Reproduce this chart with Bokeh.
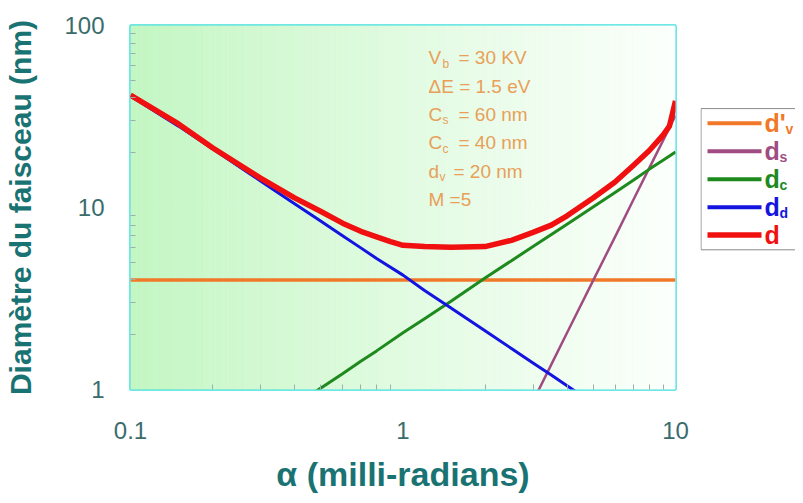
import numpy as np
from bokeh.plotting import figure
from bokeh.layouts import row
from bokeh.models import FixedTicker, CustomJSTickFormatter, Label, Range1d
from bokeh.core.properties import value
from bokeh.embed import file_html
from bokeh.resources import INLINE

# ---------------- data ----------------
alpha_tot = [0.1, 0.15, 0.2, 0.3, 0.4, 0.5, 0.6, 0.7, 0.8, 0.9, 1.0, 1.2, 1.5,
             2.0, 2.5, 3.0, 3.5, 4.0, 5.0, 6.0, 7.0, 8.0, 9.0, 9.5, 10.0]
d_tot = [41.5, 28.8, 21.3, 14.5, 11.3, 9.5, 8.2, 7.4, 6.9, 6.5, 6.2, 6.1, 6.05,
         6.1, 6.6, 7.3, 8.0, 9.0, 11.3, 13.8, 17.0, 20.5, 25.0, 28.0, 38.5]

alpha_dd = [0.1, 0.15, 0.2, 0.3, 0.4, 0.5, 0.6, 0.7, 0.8, 1.0, 1.2, 1.5, 2.0,
            2.5, 3.0, 3.5, 4.0, 4.5]
d_dd = [41.0, 28.0, 21.0, 14.0, 10.5, 8.4, 7.0, 6.0, 5.25, 4.25, 3.5, 2.8, 2.1,
        1.68, 1.4, 1.2, 1.05, 0.93]

alpha_dc = [0.45, 0.5, 0.6, 0.7, 0.8, 1.0, 1.2, 1.5, 2.0, 2.5, 3.0, 4.0, 5.0,
            6.0, 7.0, 8.0, 9.0, 10.0]
d_dc = [0.92, 1.02, 1.22, 1.43, 1.63, 2.05, 2.45, 3.05, 4.1, 5.1, 6.1, 8.1,
        10.1, 12.1, 14.1, 16.2, 18.2, 20.2]

alpha_ds = [3.0, 3.5, 4.0, 5.0, 6.0, 7.0, 8.0, 9.0, 10.0]
d_ds = [0.86, 1.37, 2.05, 4.0, 6.9, 11.0, 16.4, 23.3, 32.0]

alpha_dv = [0.1, 10.0]
d_dv = [4.0, 4.0]

x_ticks = [0.1, 1, 10]
x_tick_labels = ["0.1", "1", "10"]
y_ticks = [1, 10, 100]
y_tick_labels = ["1", "10", "100"]

param_lines = [("V", "b", "= 30 KV"), ("\u0394E = 1.5 eV", "", ""),
               ("C", "s", "= 60 nm"), ("C", "c", "= 40 nm"),
               ("d", "v", "= 20 nm"), ("M =5", "", "")]
legend_main = ["d'", "d", "d", "d", "d"]
legend_sub = ["v", "s", "c", "d", ""]

# ---------------- styles ----------------
C_ORANGE = "#F07828"
C_PURPLE = "#A04C82"
C_GREEN = "#1E8A1E"
C_BLUE = "#1414E0"
C_RED = "#F01010"
C_TEAL = "#1a7373"
C_TICK = "#3a6c6c"
C_PARAM = "#E8A058"
FONT = "Liberation Sans"

W_TOTAL, H = 795, 495
W_MAIN = 700
ML, MR, MT, MB = 130, 25, 25, 105
p = figure(width=W_MAIN, height=H, x_axis_type="log", y_axis_type="log",
           x_range=Range1d(0.1, 10), y_range=Range1d(1, 100),
           output_backend="svg", toolbar_location=None,
           min_border_left=ML, min_border_right=MR,
           min_border_top=MT, min_border_bottom=MB)
p.background_fill_color = "white"
p.border_fill_color = "white"
p.outline_line_color = "#40E0E0"
p.outline_line_width = 2.5

# background gradient (green -> white)
n = 90
edges = np.logspace(-1, 1, n + 1)
t = (np.arange(n) + 0.5) / n
left_rgb = np.array([194, 246, 194])
cols = []
for tt in t:
    c = left_rgb + (np.array([252, 255, 252]) - left_rgb) * (tt ** 0.9)
    cols.append("#%02x%02x%02x" % tuple(int(round(v)) for v in c))
p.quad(left=edges[:-1], right=edges[1:], bottom=1, top=100,
       fill_color=cols, line_color=cols, line_width=0.6)

# axes
x_minor = [d * k for d in (0.1, 1) for k in range(2, 10)]
y_minor = [d * k for d in (1, 10) for k in range(2, 10)]
p.xaxis.ticker = FixedTicker(ticks=x_ticks, minor_ticks=x_minor)
p.yaxis.ticker = FixedTicker(ticks=y_ticks, minor_ticks=y_minor)
fmt_code = """
const i = tv.findIndex(t => Math.abs(t - tick) < 1e-6 * Math.max(1, t));
return i >= 0 ? tl[i] : "";
"""
p.xaxis.formatter = CustomJSTickFormatter(args=dict(tv=x_ticks, tl=x_tick_labels), code=fmt_code)
p.yaxis.formatter = CustomJSTickFormatter(args=dict(tv=y_ticks, tl=y_tick_labels), code=fmt_code)

for ax in (p.xaxis[0], p.yaxis[0]):
    ax.axis_line_color = None
    ax.major_tick_line_color = None
    ax.minor_tick_line_color = "#9ab0b0"
    ax.minor_tick_line_width = 1
    ax.minor_tick_in = 5
    ax.minor_tick_out = 0
    ax.major_label_text_font = FONT
    ax.major_label_text_font_size = "24px"
    ax.major_label_text_color = C_TICK
    ax.axis_label_text_font = FONT
    ax.axis_label_text_font_style = "bold"
    ax.axis_label_text_color = C_TEAL

p.xaxis.axis_label = "\u03b1 (milli-radians)"
p.xaxis.axis_label_text_font_size = "34px"
p.xaxis.major_label_standoff = 26
p.xaxis.axis_label_standoff = 13
p.yaxis.axis_label = "Diam\u00e8tre du faisceau (nm)"
p.yaxis.axis_label_text_font_size = "30px"
p.yaxis.major_label_standoff = 20
p.yaxis.axis_label_standoff = 24

p.xgrid.grid_line_color = "#80E4E4"
p.ygrid.grid_line_color = "#80E4E4"
p.xgrid.grid_line_width = 1
p.ygrid.grid_line_width = 1

# curves
p.line(alpha_dv, d_dv, line_color=C_ORANGE, line_width=3.5)
p.line(alpha_ds, d_ds, line_color=C_PURPLE, line_width=2.5)
p.line(alpha_dc, d_dc, line_color=C_GREEN, line_width=3)
p.line(alpha_dd, d_dd, line_color=C_BLUE, line_width=3)
p.line(alpha_tot, d_tot, line_color=C_RED, line_width=5.5, line_join="round")

# parameters text block (screen units, relative to the frame)
PX = 298
top_base = 331.7
line_step = 28.33
for i, (main, sub, rest) in enumerate(param_lines):
    bl = top_base - i * line_step
    p.add_layout(Label(x=PX, y=bl, x_units="screen", y_units="screen", text=main,
                       text_font=FONT, text_font_size="19px", text_color=C_PARAM,
                       text_baseline="alphabetic"))
    if sub:
        dx = 11 if main == "d" else 14
        p.add_layout(Label(x=PX + dx, y=bl - 6, x_units="screen", y_units="screen",
                           text=sub, text_font=FONT, text_font_size="12px",
                           text_color=C_PARAM, text_baseline="alphabetic"))
        rx = 25 if main == "d" else 30
        p.add_layout(Label(x=PX + rx, y=bl, x_units="screen", y_units="screen",
                           text=rest, text_font=FONT, text_font_size="19px",
                           text_color=C_PARAM, text_baseline="alphabetic"))

# ---------------- legend panel (separate figure on the right) ----------------
W_LEG = W_TOTAL - W_MAIN
lg = figure(width=W_LEG, height=H, x_range=Range1d(0, W_LEG), y_range=Range1d(H, 0),
            output_backend="svg", toolbar_location=None,
            x_axis_location=None, y_axis_location=None,
            min_border_left=0, min_border_right=0, min_border_top=0, min_border_bottom=0)
lg.grid.visible = False
lg.outline_line_color = None
lg.background_fill_color = "white"
lg.border_fill_color = "white"

BOX_TOP, BOX_BOTTOM = 113, 305
ROW0, ROW_STEP = 133, 38
leg_colors = [C_ORANGE, C_PURPLE, C_GREEN, C_BLUE, C_RED]
leg_widths = [4, 4, 4, 4, 5.5]
ys = [ROW0 + i * ROW_STEP for i in range(len(legend_main))]

lg.quad(left=0.5, right=W_LEG + 40, top=BOX_TOP, bottom=BOX_BOTTOM,
        fill_color="white", line_color="#8a8a8a", line_width=1)
lg.segment(x0=[7] * 5, x1=[61] * 5, y0=ys, y1=ys, line_color=leg_colors,
           line_width=leg_widths)
TX = 64
lg.text(x=[TX] * 5, y=ys, text=legend_main, text_color=leg_colors,
        text_font=value(FONT), text_font_size=value("25px"), text_font_style="bold",
        text_baseline="middle", text_align="left")
sub_idx = [i for i, s in enumerate(legend_sub) if s]
lg.text(x=[TX + (21 if "'" in legend_main[i] else 15) for i in sub_idx],
        y=[ys[i] + 8 for i in sub_idx], text=[legend_sub[i] for i in sub_idx],
        text_color=[leg_colors[i] for i in sub_idx],
        text_font=value(FONT), text_font_size=value("14px"), text_font_style="bold",
        text_baseline="middle", text_align="left")

layout = row(p, lg, spacing=0)
open("out.html", "w").write(file_html(layout, INLINE))
